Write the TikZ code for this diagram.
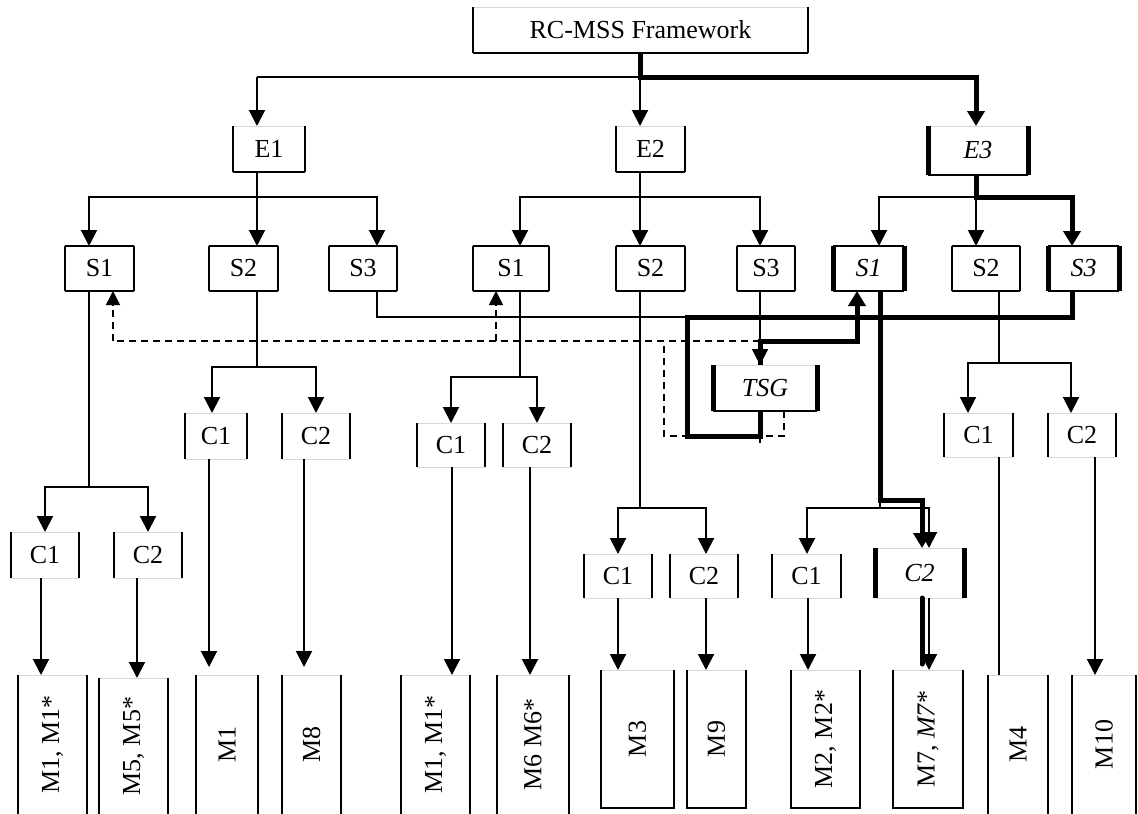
\documentclass[tikz,border=0pt]{standalone}
\usepackage{fontspec}
\setmainfont{Liberation Serif}
\usepackage{graphicx}
\usetikzlibrary{arrows.meta}
\newcommand\fsz{\fontsize{26}{30}\selectfont}
% faint top, dark left/bottom/right
\newcommand\obox[2][1.4pt]{%
  \draw[faint] (#2.north west) -- (#2.north east);
  \draw[line width=1.4pt] (#2.south west) -- (#2.south east);
  \draw[line width=#1] (#2.north west) -- (#2.south west) (#2.north east) -- (#2.south east);}
% all four sides dark
\newcommand\fullbx[2][1.4pt]{%
  \draw[line width=1.4pt] (#2.north west) -- (#2.north east) (#2.south west) -- (#2.south east);
  \draw[line width=#1] (#2.north west) -- (#2.south west) (#2.north east) -- (#2.south east);}
% faint top and bottom, dark sides
\newcommand\cbx[2][1.4pt]{%
  \draw[faint] (#2.north west) -- (#2.north east) (#2.south west) -- (#2.south east);
  \draw[line width=#1] (#2.north west) -- (#2.south west) (#2.north east) -- (#2.south east);}
% faint top, sides running off the bottom
\newcommand\mopen[1]{%
  \draw[faint] (#1.north west) -- (#1.north east);
  \draw[line width=1.4pt] (#1.north west) -- ([yshift=-10pt]#1.south west) (#1.north east) -- ([yshift=-10pt]#1.south east);}
% faint top, dark sides and bottom
\newcommand\mclosed[1]{%
  \draw[faint] (#1.north west) -- (#1.north east);
  \draw[line width=1.4pt] (#1.north west) -- (#1.south west) -- (#1.south east) -- (#1.north east);}
\begin{document}
\begin{tikzpicture}[x=1pt,y=-1pt,
  bx/.style={inner sep=0pt, outer sep=0pt, font=\fsz},
  faint/.style={draw=black!15, line width=1pt},
  ln/.style={line width=2pt},
  thn/.style={line width=1.2pt},
  thk/.style={line width=5pt, line cap=round},
  arr/.style={line width=2pt, -{Triangle[width=16pt,length=16pt]}},
  thkarr/.style={line width=5pt, -{Triangle[width=17pt,length=15pt]}},
  dsh/.style={line width=1.6pt, dash pattern=on 7pt off 5pt},
  dsharr/.style={dsh, -{Triangle[width=14pt,length=14pt]}}]
\useasboundingbox (0,0) rectangle (1138,814);
\fill[white] (0,0) rectangle (1138,814);

% ---------- nodes ----------
\node[bx, minimum width=335pt, minimum height=46pt] (rc) at (640.5,30) {RC-MSS Framework};
\node[bx, minimum width=72pt, minimum height=46pt] (e1) at (269,149) {E1};
\node[bx, minimum width=69pt, minimum height=46pt] (e2) at (650.5,149) {E2};
\node[bx, minimum width=100pt, minimum height=49pt] (e3) at (978,150.5) {\itshape E3};

\node[bx, minimum width=69pt, minimum height=45pt] (s11) at (99.5,268.5) {S1};
\node[bx, minimum width=69pt, minimum height=45pt] (s12) at (243.5,268.5) {S2};
\node[bx, minimum width=68pt, minimum height=45pt] (s13) at (363,268.5) {S3};
\node[bx, minimum width=76pt, minimum height=45pt] (s21) at (511,268.5) {S1};
\node[bx, minimum width=69pt, minimum height=45pt] (s22) at (650.5,268.5) {S2};
\node[bx, minimum width=58pt, minimum height=45pt] (s23) at (766,268.5) {S3};
\node[bx, minimum width=71pt, minimum height=45pt] (s31) at (868.5,268.5) {\itshape S1};
\node[bx, minimum width=68pt, minimum height=45pt] (s32) at (986,268.5) {S2};
\node[bx, minimum width=71pt, minimum height=45pt] (s33) at (1083.5,268.5) {\itshape S3};

\node[bx, minimum width=104pt, minimum height=46pt] (tsg) at (765,388) {\itshape TSG};

\node[bx, minimum width=68pt, minimum height=46pt] (c111) at (45,555) {C1};
\node[bx, minimum width=68pt, minimum height=46pt] (c112) at (148,555) {C2};
\node[bx, minimum width=62pt, minimum height=46pt] (c121) at (216,436) {C1};
\node[bx, minimum width=68pt, minimum height=46pt] (c122) at (316,436) {C2};
\node[bx, minimum width=68pt, minimum height=44pt] (c211) at (451,445) {C1};
\node[bx, minimum width=68pt, minimum height=44pt] (c212) at (537,445) {C2};
\node[bx, minimum width=68pt, minimum height=44pt] (c221) at (618,576) {C1};
\node[bx, minimum width=68pt, minimum height=44pt] (c222) at (704,576) {C2};
\node[bx, minimum width=69pt, minimum height=44pt] (c311) at (806.5,576) {C1};
\node[bx, minimum width=89pt, minimum height=50pt] (c312) at (919.5,573) {\itshape C2};
\node[bx, minimum width=69pt, minimum height=44pt] (c321) at (978.5,435) {C1};
\node[bx, minimum width=68pt, minimum height=44pt] (c322) at (1082,435) {C2};

\node[bx, minimum width=69pt, minimum height=139pt] (m1) at (52.5,744.5) {\rotatebox{90}{M1, M1*}};
\node[bx, minimum width=69pt, minimum height=136pt] (m2) at (133.5,746) {\rotatebox{90}{M5, M5*}};
\node[bx, minimum width=62pt, minimum height=139pt] (m3) at (227,744.5) {\rotatebox{90}{M1}};
\node[bx, minimum width=59pt, minimum height=139pt] (m4) at (311.5,744.5) {\rotatebox{90}{M8}};
\node[bx, minimum width=69pt, minimum height=139pt] (m5) at (435.5,744.5) {\rotatebox{90}{M1, M1*}};
\node[bx, minimum width=72pt, minimum height=139pt] (m6) at (533,744.5) {\rotatebox{90}{M6 M6*}};
\node[bx, minimum width=73pt, minimum height=138pt] (m7) at (637.5,739) {\rotatebox{90}{M3}};
\node[bx, minimum width=59pt, minimum height=138pt] (m8) at (716.5,739) {\rotatebox{90}{M9}};
\node[bx, minimum width=69pt, minimum height=138pt] (m9) at (825.5,739) {\rotatebox{90}{M2, M2*}};
\node[bx, minimum width=70pt, minimum height=138pt] (m10) at (928,739) {\rotatebox{90}{M7, \textit{M7}*}};
\node[bx, minimum width=60pt, minimum height=139pt] (m11) at (1018,744.5) {\rotatebox{90}{M4}};
\node[bx, minimum width=64pt, minimum height=139pt] (m12) at (1104,744.5) {\rotatebox{90}{M10}};

% ---------- box outlines ----------
\obox{rc}
\obox{e1} \obox{e2} \obox[5pt]{e3}
\fullbx{s11} \fullbx{s12} \fullbx{s13} \fullbx{s21} \fullbx{s22} \fullbx{s23}
\fullbx[5pt]{s31} \fullbx{s32} \fullbx[5pt]{s33}
\obox[5pt]{tsg}
\cbx{c111} \cbx{c112} \cbx{c121} \cbx{c122} \cbx{c211} \cbx{c212}
\cbx{c221} \cbx{c222} \cbx{c311} \cbx[5pt]{c312} \cbx{c321} \cbx{c322}
\mopen{m1} \mopen{m2} \mopen{m3} \mopen{m4} \mopen{m5} \mopen{m6}
\mclosed{m7} \mclosed{m8} \mclosed{m9} \mclosed{m10}
\mopen{m11} \mopen{m12}

% ---------- framework to E ----------
\coordinate (a1) at (257,77);
\coordinate (a0) at (640,77);
\coordinate (a3) at (976,77);
\draw[ln] (a1) -- (a0);
\draw[arr] (a1) -- (a1 |- e1.north);
\draw[arr] (a0) -- (a0 |- e2.north);
\draw[thkarr] (rc.south -| a0) -- (a0) -- (a3) -- (a3 |- e3.north);

% ---------- E to S ----------
\coordinate (b10) at (257,197);
\coordinate (b11) at (89,197);
\coordinate (b13) at (377,197);
\draw[arr] (e1.south -| b10) -- (b10 |- s12.north);
\draw[arr] (b10) -| (b11 |- s11.north);
\draw[arr] (b10) -| (b13 |- s13.north);

\coordinate (b20) at (640,197);
\coordinate (b21) at (520,197);
\coordinate (b23) at (760,197);
\draw[arr] (e2.south -| b20) -- (b20 |- s22.north);
\draw[arr] (b20) -| (b21 |- s21.north);
\draw[arr] (b20) -| (b23 |- s23.north);

\coordinate (b30) at (976,197);
\coordinate (b31) at (879,197);
\coordinate (b33) at (1072,197);
\draw[arr] (b30) -| (b31 |- s31.north);
\draw[arr] (b30) -- (b30 |- s32.north);
\draw[thkarr] (e3.south -| b30) -- (b30) -| (b33 |- s33.north);

% ---------- S to C ----------
\coordinate (d10) at (89,487);
\coordinate (d11) at (45,487);
\coordinate (d12) at (148,487);
\draw[thn] (s11.south -| d10) -- (d10);
\draw[arr] (d10) -| (d11 |- c111.north);
\draw[arr] (d10) -| (d12 |- c112.north);

\coordinate (d20) at (257,367);
\coordinate (d21) at (212,367);
\coordinate (d22) at (316,367);
\draw[thn] (s12.south -| d20) -- (d20);
\draw[arr] (d20) -| (d21 |- c121.north);
\draw[arr] (d20) -| (d22 |- c122.north);

\coordinate (d30) at (520,377);
\coordinate (d31) at (451,377);
\coordinate (d32) at (537,377);
\draw[thn] (s21.south -| d30) -- (d30);
\draw[arr] (d30) -| (d31 |- c211.north);
\draw[arr] (d30) -| (d32 |- c212.north);

\coordinate (d40) at (640,508);
\coordinate (d41) at (618,508);
\coordinate (d42) at (706,508);
\draw[thn] (s22.south -| d40) -- (d40);
\draw[arr] (d40) -| (d41 |- c221.north);
\draw[arr] (d40) -| (d42 |- c222.north);

\coordinate (e50) at (880,500);
\coordinate (e52) at (922,500);
\coordinate (d50) at (880,508);
\coordinate (d51) at (807,508);
\coordinate (d52) at (929,508);
\draw[thn] (e50) -- (d50);
\draw[arr] (d50) -| (d51 |- c311.north);
\draw[arr] (d50) -| (d52 |- c312.north);
\draw[thkarr] (s31.south -| e50) -- (e50) -- (e52) -- (e52 |- c312.north);

\coordinate (d60) at (999,363);
\coordinate (d61) at (968,363);
\coordinate (d62) at (1071,363);
\draw[thn] (s32.south -| d60) -- (d60);
\draw[arr] (d60) -| (d61 |- c321.north);
\draw[arr] (d60) -| (d62 |- c322.north);

% ---------- TSG loop ----------
\coordinate (p0) at (377,317);
\coordinate (p1) at (687,317);
\coordinate (p2) at (1072,317);
\coordinate (p3) at (687,436);
\coordinate (p4) at (760,436);
\coordinate (p5) at (760,447);
\coordinate (q0) at (760,341);
\coordinate (q1) at (857,341);
\coordinate (r0) at (784,436);
\coordinate (r1) at (664,436);
\coordinate (r2) at (664,341);
\coordinate (r3) at (113,341);
\coordinate (r4) at (496,341);

\draw[dsh] (q0) -- (r3);
\draw[dsh] (tsg.south -| r0) -- (r0) -- (r1) -- (r2);
\draw[dsh] (p4) -- (p5);
\draw[dsharr] (r3) -- (r3 |- s11.south);
\draw[dsharr] (r4) -- (r4 |- s21.south);

\draw[thn] (s13.south -| p0) -- (p0) -- (p1);
\draw[thk, line cap=butt, line join=miter] (s33.south -| p2) -- (p2) -- (p1) -- (p3) -- (p4) -- (p4 |- tsg.south);
\draw[thkarr, line join=miter] (tsg.north -| q0) -- (q0) -- (q1) -- (q1 |- s31.south);
\draw[arr] (s23.south -| q0) -- (q0 |- tsg.north);

% ---------- C to M ----------
\draw[arr] ([xshift=-4pt]c111.south) -- ([xshift=-4pt]c111.south |- m1.north);
\draw[arr] ([xshift=-11pt]c112.south) -- ([xshift=-11pt]c112.south |- m2.north);
\draw[arr, shorten >=8pt] ([xshift=-7pt]c121.south) -- ([xshift=-7pt]c121.south |- m3.north);
\draw[arr, shorten >=8pt] ([xshift=-12pt]c122.south) -- ([xshift=-12pt]c122.south |- m4.north);
\draw[arr] ([xshift=1pt]c211.south) -- ([xshift=1pt]c211.south |- m5.north);
\draw[arr] ([xshift=-7pt]c212.south) -- ([xshift=-7pt]c212.south |- m6.north);
\draw[arr] (c221.south) -- (c221.south |- m7.north);
\draw[arr] ([xshift=2pt]c222.south) -- ([xshift=2pt]c222.south |- m8.north);
\draw[arr] ([xshift=1.5pt]c311.south) -- ([xshift=1.5pt]c311.south |- m9.north);
\draw[thk] ([xshift=2.5pt]c312.south) -- ([xshift=2.5pt,yshift=6pt]c312.south |- m10.north);
\draw[arr] ([xshift=9.5pt]c312.south) -- ([xshift=9.5pt]c312.south |- m10.north);
\draw[ln] ([xshift=20.5pt]c321.south) -- ([xshift=20.5pt]c321.south |- m11.north);
\draw[arr] ([xshift=13pt]c322.south) -- ([xshift=13pt]c322.south |- m12.north);
\end{tikzpicture}
\end{document}
